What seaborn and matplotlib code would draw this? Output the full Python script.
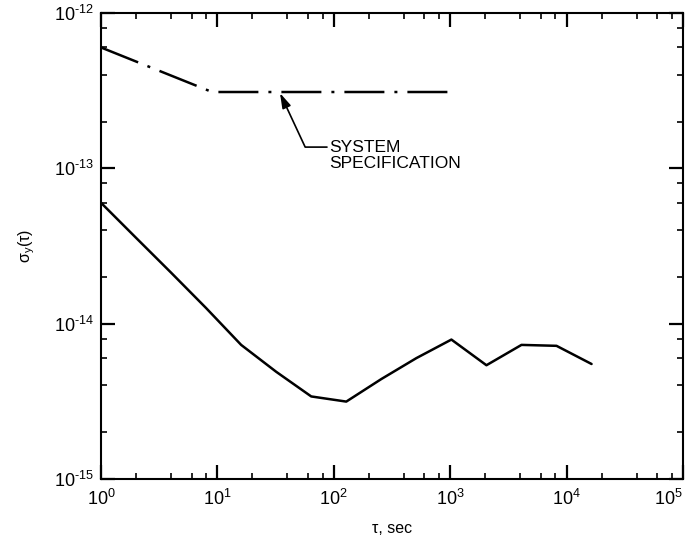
import matplotlib
matplotlib.use("Agg")
import matplotlib.pyplot as plt
import seaborn as sns
import pandas as pd
from matplotlib.ticker import LogLocator, FixedLocator, FuncFormatter, NullFormatter

# ---- data ----
tau_measured = [1, 2, 4, 8, 16, 32, 64, 128, 256, 512, 1024, 2048, 4096, 8192, 16384]
sigma_measured = [6.0e-14, 3.57e-14, 2.13e-14, 1.26e-14, 7.3e-15, 4.9e-15, 3.4e-15,
                  3.15e-15, 4.4e-15, 6.0e-15, 7.9e-15, 5.4e-15, 7.3e-15, 7.2e-15, 5.5e-15]
tau_spec = [1, 9, 1000]
sigma_spec = [6.0e-13, 3.1e-13, 3.1e-13]
x_major = [1e0, 1e1, 1e2, 1e3, 1e4, 1e5]
x_exponents = ["0", "1", "2", "3", "4", "5"]
y_major = [1e-15, 1e-14, 1e-13, 1e-12]
y_exponents = ["\u201015", "\u201014", "\u201013", "\u201012"]
annotation_text = "SYSTEM\nSPECIFICATION"
x_label = "τ, sec"
y_label = "σ$_y$(τ)"

sns.set_style("white")
plt.rcParams["font.family"] = ["Liberation Sans", "DejaVu Sans"]
plt.rcParams["mathtext.fontset"] = "custom"
plt.rcParams["mathtext.rm"] = "Liberation Sans"
plt.rcParams["mathtext.it"] = "Liberation Sans"
plt.rcParams["mathtext.bf"] = "Liberation Sans:bold"

fig = plt.figure(figsize=(6.85, 5.44), dpi=100)
ax = fig.add_axes([101 / 685, 65 / 544, 582 / 685, 466 / 544])
ax.set_xscale("log")
ax.set_yscale("log")

df_meas = pd.DataFrame({"tau": tau_measured, "sigma": sigma_measured})
df_spec = pd.DataFrame({"tau": tau_spec, "sigma": sigma_spec})

sns.lineplot(data=df_meas, x="tau", y="sigma", color="black", lw=1.8, ax=ax)
sns.lineplot(data=df_spec, x="tau", y="sigma", color="black", lw=1.8, ax=ax)
ax.lines[-1].set_dashes((16, 4, 1.2, 4))

ax.set_xlim(1, 1e5)
ax.set_ylim(1e-15, 1e-12)

ax.xaxis.set_major_locator(FixedLocator(x_major))
ax.xaxis.set_major_formatter(FuncFormatter(
    lambda v, p: "$10^{%s}$" % x_exponents[x_major.index(v)] if v in x_major else ""))
ax.yaxis.set_major_locator(FixedLocator(y_major))
ax.yaxis.set_major_formatter(FuncFormatter(
    lambda v, p: "$10^{%s}$" % y_exponents[y_major.index(v)] if v in y_major else ""))
ax.xaxis.set_minor_locator(LogLocator(base=10, subs=(2, 4, 6, 8)))
ax.yaxis.set_minor_locator(LogLocator(base=10, subs=(2, 4, 6, 8)))
ax.xaxis.set_minor_formatter(NullFormatter())
ax.yaxis.set_minor_formatter(NullFormatter())

ax.tick_params(which="both", direction="in", top=True, right=True, bottom=True, left=True,
               color="black", labelsize=13, labelcolor="black")
ax.tick_params(which="major", length=10, width=1.6)
ax.tick_params(which="minor", length=4.5, width=1.2)
ax.tick_params(axis="x", which="major", pad=7)
ax.tick_params(axis="y", which="major", pad=5)

for s in ax.spines.values():
    s.set_visible(True)
    s.set_color("black")
    s.set_linewidth(1.5)

major_ticks = ax.xaxis.get_major_ticks()
major_ticks[-1].label1.set_horizontalalignment("right")

ax.set_xlabel(x_label, fontsize=11.5, color="black")
ax.xaxis.set_label_coords(0.5, -0.090)
ax.set_ylabel(y_label, fontsize=11.5, color="black")
ax.yaxis.set_label_coords(-0.11, 0.5)

# annotation with a kinked leader line
ax.annotate("", xy=(34.5, 3.05e-13), xytext=(87.4, 1.37e-13),
            arrowprops=dict(arrowstyle="-|>,head_length=0.6,head_width=0.18",
                            mutation_scale=15, color="black", lw=1.2,
                            shrinkA=0, shrinkB=0,
                            connectionstyle="angle,angleA=0,angleB=-65,rad=0"))
ax.text(91, 1.52e-13, annotation_text, ha="left", va="top", fontsize=12.5,
        color="black", linespacing=1.05)

fig.savefig("out.png", dpi=100, facecolor="white")
